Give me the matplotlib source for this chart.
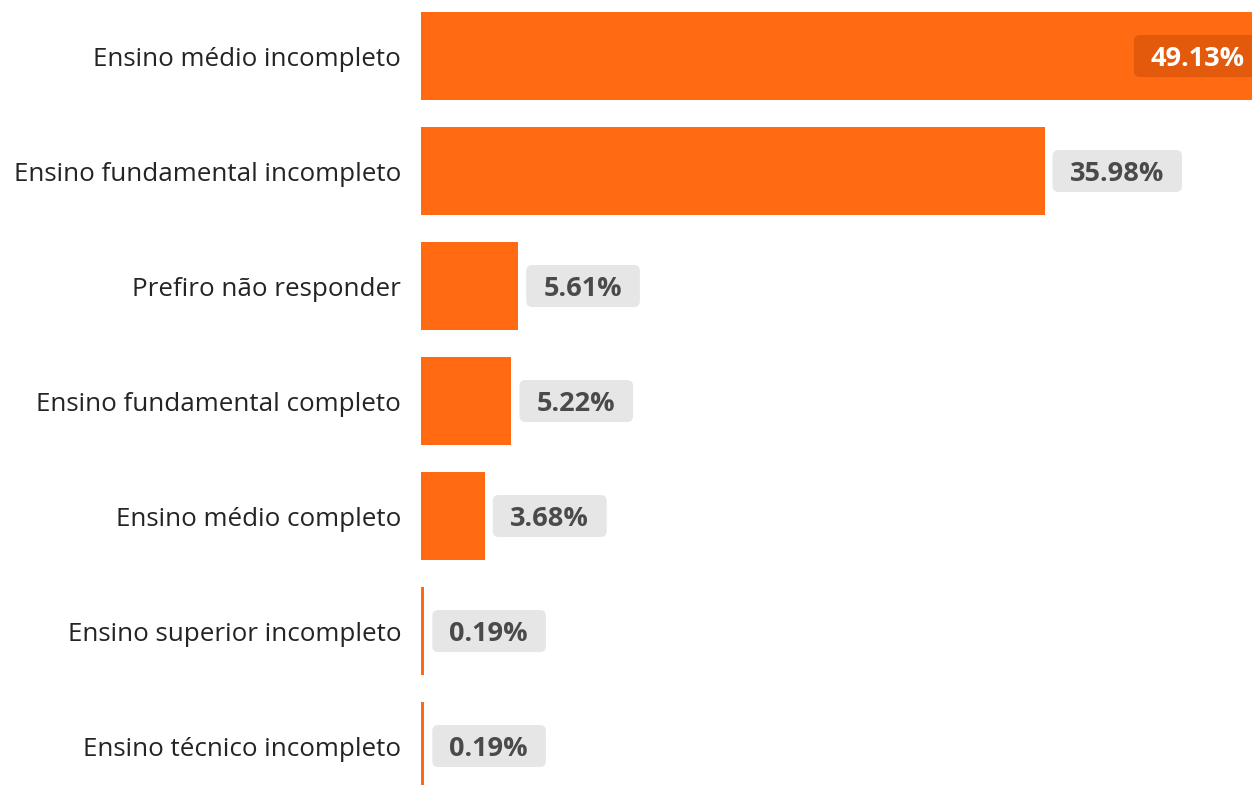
import matplotlib
matplotlib.use("Agg")
import matplotlib.pyplot as plt
from matplotlib.patches import FancyBboxPatch

categories = [
    "Ensino médio incompleto",
    "Ensino fundamental incompleto",
    "Prefiro não responder",
    "Ensino fundamental completo",
    "Ensino médio completo",
    "Ensino superior incompleto",
    "Ensino técnico incompleto",
]
values = [49.13, 35.98, 5.61, 5.22, 3.68, 0.19, 0.19]
value_labels = ["49.13%", "35.98%", "5.61%", "5.22%", "3.68%", "0.19%", "0.19%"]

BAR = "#FF6A13"
BAR_DARK = "#E35A0C"
BOX = "#E6E6E6"
VAL_TXT = "#4A4A4A"
CAT_TXT = "#252423"

plt.rcParams['font.family'] = ['Open Sans', 'DejaVu Sans']

fig = plt.figure(figsize=(12.52, 7.85), dpi=100)
ax = fig.add_axes([421 / 1252, 0, 1 - 421 / 1252, 1])

y = list(range(len(categories)))
ax.barh(y, values, height=0.765, color=BAR, zorder=2)
ax.set_xlim(0, 47.95)
ax.set_ylim(6.339, -0.487)
ax.set_yticks(y)
ax.set_yticklabels(categories, fontsize=18.7, color=CAT_TXT)
ax.tick_params(axis='y', length=0, pad=14.4)
ax.set_xticks([])
for s in ax.spines.values():
    s.set_visible(False)

fig.canvas.draw()
renderer = fig.canvas.get_renderer()

texts = []
for i, (v, lab) in enumerate(zip(values, value_labels)):
    cx, cy = ax.transData.transform((v, i))
    if i == 0:
        t = ax.annotate(lab, xy=(1.0, i), xycoords=('axes fraction', 'data'),
                        xytext=(-7, -10), textcoords='offset pixels',
                        ha='right', va='baseline', fontsize=19.5,
                        fontweight='bold', color='white', zorder=6,
                        annotation_clip=False)
    else:
        t = ax.annotate(lab, xy=(v, i), xycoords='data',
                        xytext=(25, -10), textcoords='offset pixels',
                        ha='left', va='baseline', fontsize=19.5,
                        fontweight='bold', color=VAL_TXT, zorder=6,
                        annotation_clip=False)
    texts.append((t, i, cy))

fig.canvas.draw()
for t, i, cy in texts:
    bb = t.get_window_extent(renderer)
    x0 = bb.x0 - 17
    w = bb.width + 35
    patch = FancyBboxPatch((x0, cy - 21), w, 42,
                           boxstyle="round,pad=0,rounding_size=6",
                           transform=None, facecolor=BAR_DARK if i == 0 else BOX,
                           edgecolor='none', zorder=4, clip_on=False)
    ax.add_artist(patch)

fig.savefig("out.png", dpi=100)
